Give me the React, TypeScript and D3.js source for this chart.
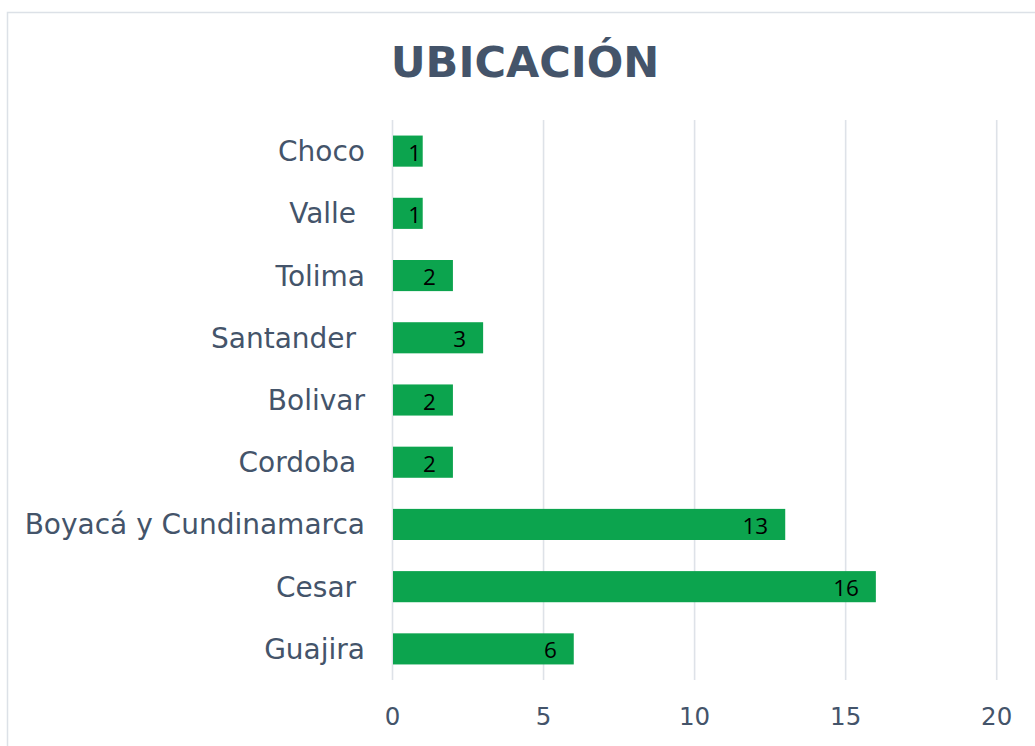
import React from "react";
import * as d3 from "d3";

const categories = ["Choco", "Valle ", "Tolima", "Santander ", "Bolivar", "Cordoba ", "Boyacá y Cundinamarca", "Cesar ", "Guajira"];
const values = [1, 1, 2, 3, 2, 2, 13, 16, 6];
const xTicks = [0, 5, 10, 15, 20];
const title = "UBICACIÓN";

const W = 1035;
const H = 746;
const textColor = "#44546A";
const barColor = "#0CA44E";
const gridColor = "#DEE2E8";

export default function App() {
  const x = d3.scaleLinear().domain([0, 20]).range([392.5, 996.7]);
  const y = d3.scaleBand<string>().domain(categories).range([120, 680]).paddingInner(0.5).paddingOuter(0.25);
  const bw = y.bandwidth();
  return (
    <svg width={W} height={H} style={{ position: "absolute", left: 0, top: 0, background: "#fff" }}>
      <rect x={7.5} y={12.5} width={W + 20} height={H + 20} fill="#fff" stroke="#DCE1E7" strokeWidth={1.5} />
      <text x={525} y={77} textAnchor="middle" fontFamily="DejaVu Sans" fontWeight="bold" fontSize={43} fill={textColor}>
        {title}
      </text>
      {xTicks.map((t) => (
        <line key={"g" + t} x1={x(t)} x2={x(t)} y1={120} y2={680} stroke={gridColor} strokeWidth={1.6} />
      ))}
      {categories.map((c, i) => {
        const y0 = y(c)!;
        const xe = x(values[i]);
        const labelEnd = Math.max(xe - 17, x(0) + 28.5);
        return (
          <g key={c}>
            <rect x={x(0) + 0.5} y={y0} width={xe - x(0) - 0.5} height={bw} fill={barColor} />
            <text x={labelEnd} y={y0 + bw / 2 + 9.5} textAnchor="end" fontFamily="Open Sans" fontSize={22.5} fill="#000">
              {values[i]}
            </text>
            <text
              x={365}
              y={y0 + bw / 2 + 10}
              textAnchor="end"
              fontFamily="DejaVu Sans"
              fontSize={28}
              fill={textColor}
              style={{ whiteSpace: "pre" }}
            >
              {c}
            </text>
          </g>
        );
      })}
      {xTicks.map((t) => (
        <text key={"t" + t} x={x(t)} y={725} textAnchor="middle" fontFamily="DejaVu Sans" fontSize={24.5} fill={textColor}>
          {t}
        </text>
      ))}
    </svg>
  );
}
